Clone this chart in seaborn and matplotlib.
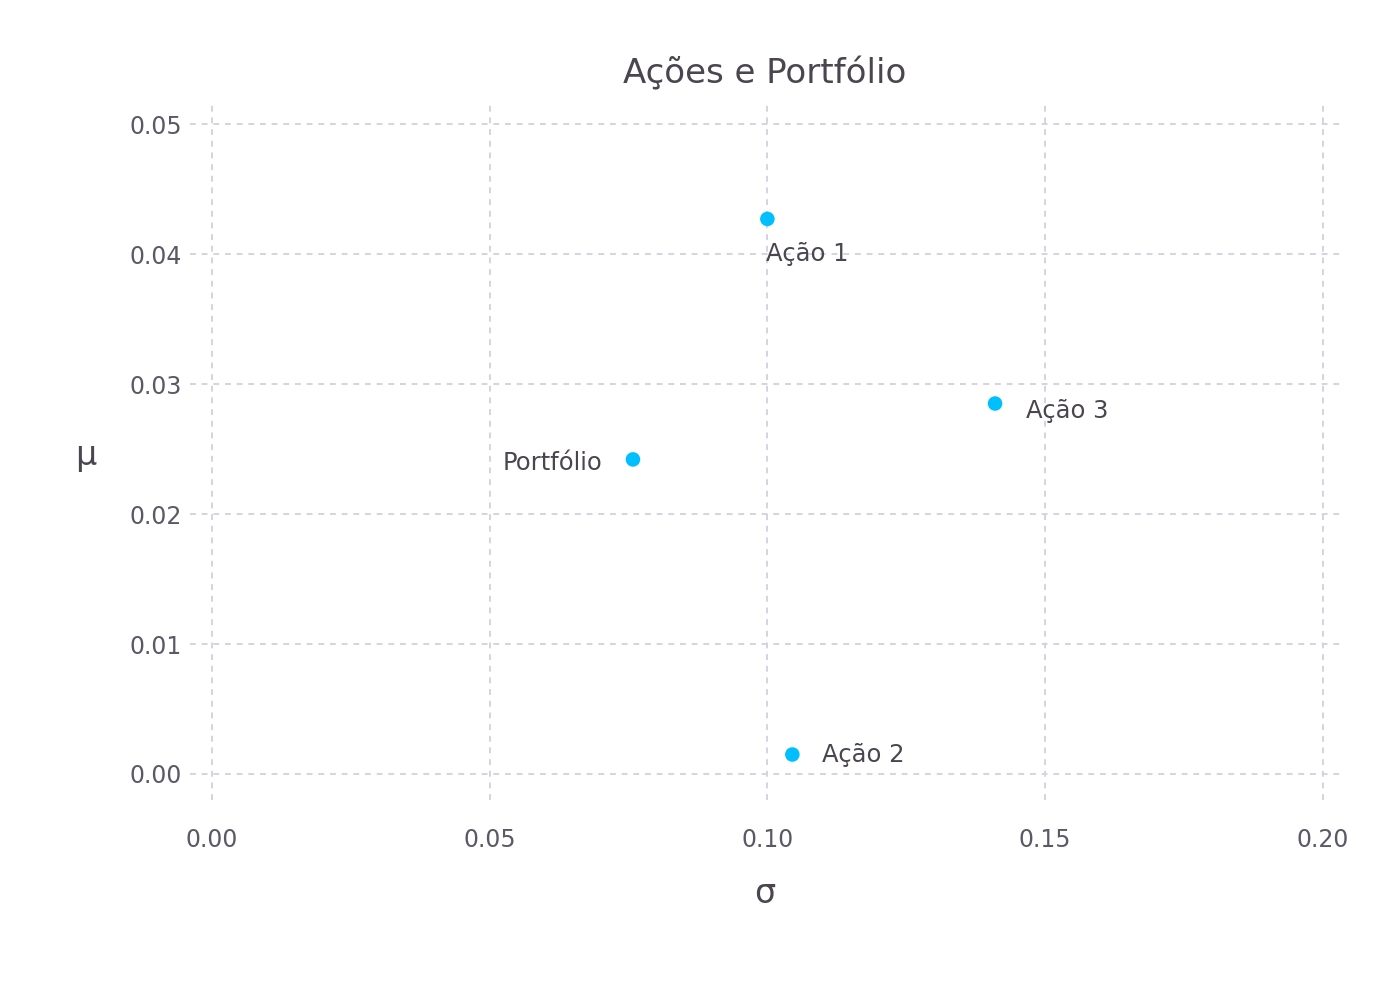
import matplotlib
matplotlib.use('Agg')
import matplotlib.pyplot as plt
import seaborn as sns
import pandas as pd

# Dados: risco (sigma) e retorno (mu) de cada ativo
nomes = ['Ação 1', 'Ação 2', 'Ação 3', 'Portfólio']
sigma = [0.1000, 0.1045, 0.1410, 0.0758]
mu = [0.0427, 0.0015, 0.0285, 0.0242]

df = pd.DataFrame({'nome': nomes, 'sigma': sigma, 'mu': mu})

sns.set_theme(style='white')
plt.rcParams['font.family'] = ['DejaVu Sans Condensed', 'Liberation Sans Narrow', 'DejaVu Sans']

cor_texto = '#4b4550'
cor_ticks = '#5c5866'
cor_grade = '#d4d3e2'

fig = plt.figure(figsize=(13.92, 9.84), dpi=100)
ax = fig.add_axes([0.1365, 0.187, 0.8261, 0.7073])

sns.scatterplot(data=df, x='sigma', y='mu', ax=ax, color='#00bfff',
                s=110, edgecolor='none', zorder=3)

# posição dos rótulos em pixels, relativa a cada ponto
deslocamentos = {
    'Ação 1': (-1, -35, 'left'),
    'Ação 2': (30, -1, 'left'),
    'Ação 3': (31, -7, 'left'),
    'Portfólio': (-31, -4, 'right'),
}
for _, linha in df.iterrows():
    dx, dy, ha = deslocamentos[linha['nome']]
    ax.annotate(linha['nome'], (linha['sigma'], linha['mu']),
                xytext=(dx, dy), textcoords='offset pixels',
                ha=ha, va='center', fontsize=17.5, color=cor_texto)

ax.set_xlim(-0.00396, 0.2031)
ax.set_ylim(-0.002, 0.05154)
ax.set_xticks([0.00, 0.05, 0.10, 0.15, 0.20])
ax.set_yticks([0.00, 0.01, 0.02, 0.03, 0.04, 0.05])
ax.xaxis.set_major_formatter(matplotlib.ticker.FormatStrFormatter('%.2f'))
ax.yaxis.set_major_formatter(matplotlib.ticker.FormatStrFormatter('%.2f'))
ax.tick_params(axis='both', length=0, labelsize=17, labelcolor=cor_ticks)
ax.tick_params(axis='x', pad=20)
ax.tick_params(axis='y', pad=6)

ax.grid(True, linestyle=(0, (3, 3)), color=cor_grade, linewidth=1.4)
for s in ax.spines.values():
    s.set_visible(False)

ax.set_title('Ações e Portfólio', fontsize=24.5, color=cor_texto, pad=15)
ax.set_xlabel('σ', fontsize=24, color=cor_texto, labelpad=18)
ax.set_ylabel('μ', fontsize=24, color=cor_texto, rotation=0, va='center')
ax.yaxis.set_label_coords(-0.091, 0.495)

fig.savefig('out.png', dpi=100)
